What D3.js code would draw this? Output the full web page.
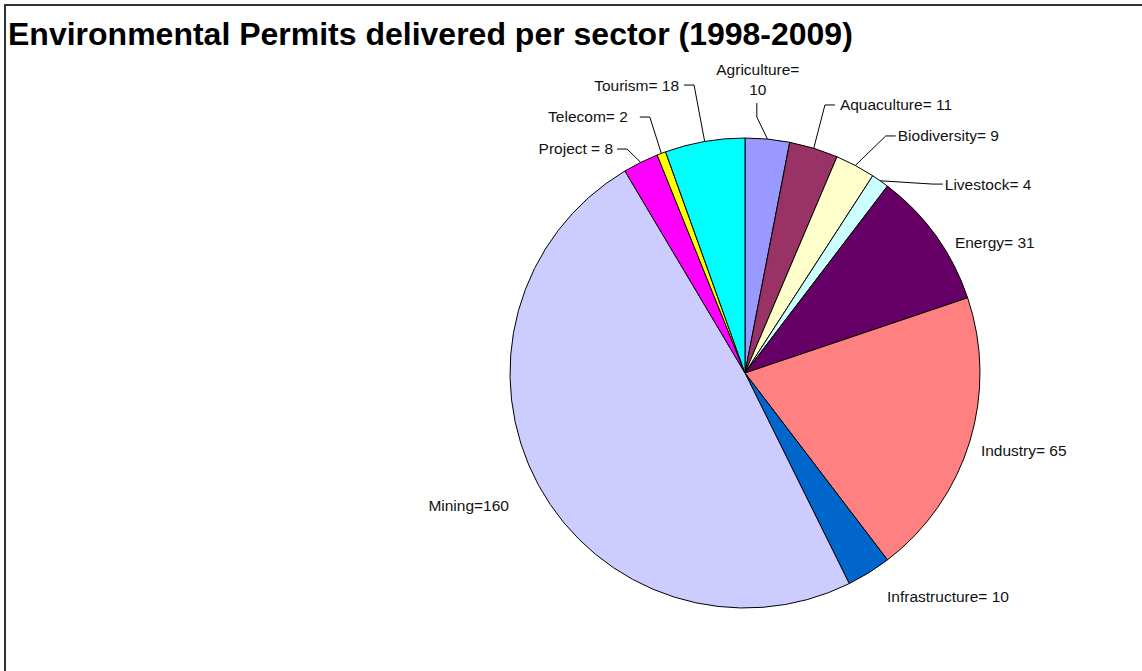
<!DOCTYPE html>
<html lang="en">
<head>
    <meta charset="UTF-8">
    <style>
        body { margin: 0; background: #fff; }
        svg { display: block; font-family: Arial, "Liberation Sans", sans-serif; }
        .labels { font-size: 15.5px; fill: #111; }
        .leader { fill: none; stroke: #000; stroke-width: 1; }
    </style>
    <script src="https://d3js.org/d3.v7.min.js"></script>
</head>
<body>
    <div id="my_dataviz"></div>

    <script>
        // data
        var sectors = ["Agriculture", "Aquaculture", "Biodiversity", "Livestock", "Energy", "Industry",
            "Infrastructure", "Mining", "Project", "Telecom", "Tourism"];
        var permits = [10, 11, 9, 4, 31, 65, 10, 160, 8, 2, 18];
        var labelTexts = [["Agriculture=", "10"], ["Aquaculture= 11"], ["Biodiversity= 9"], ["Livestock= 4"],
            ["Energy= 31"], ["Industry= 65"], ["Infrastructure= 10"], ["Mining=160"], ["Project = 8"],
            ["Telecom= 2"], ["Tourism= 18"]];
        var colors = ["#9999FF", "#993366", "#FFFFCC", "#CCFFFF", "#660066", "#FF8080",
            "#0066CC", "#CCCCFF", "#FF00FF", "#FFFF00", "#00FFFF"];

        // label placement: angle (deg, clockwise from 12 o'clock) and radius as a share of the pie radius
        var labelAngle = [2.5, 19.5, 32.8, 46.6, 58.2, 108.1, 147.6, 240.6, 329.5, 335.4, 347.1];
        var labelRadius = [1.252, 1.21, 1.2, 1.17, 1.051, 1.056, 1.128, 1.153, 1.106, 1.198, 1.257];
        var hasLeader = [true, true, true, true, false, false, false, false, true, true, true];
        var leaderGap = [0, 5, 2, 2, 0, 0, 0, 0, 4, 12, 5];

        var width = 1142, height = 671;
        var cx = 745, cy = 373, radius = 235;

        var svg = d3.select("#my_dataviz")
            .append("svg")
            .attr("width", width)
            .attr("height", height);

        // frame (only left and top visible in the crop)
        svg.append("path")
            .attr("d", "M5," + height + "V5H" + width)
            .attr("fill", "none")
            .attr("stroke", "#333")
            .attr("stroke-width", 2);

        var title = svg.append("text")
            .attr("x", 8)
            .attr("y", 45)
            .style("font-weight", "bold")
            .style("font-size", "28px")
            .style("fill", "#000")
            .text("Environmental Permits delivered per sector (1998-2009)");
        var tl = title.node().getComputedTextLength();
        title.style("font-size", (28 * 845 / tl) + "px");

        var data = sectors.map(function (s, i) {
            return { name: s, value: permits[i], color: colors[i], text: labelTexts[i],
                la: labelAngle[i], lr: labelRadius[i], leader: hasLeader[i], gap: leaderGap[i] };
        });

        var pie = d3.pie()
            .value(function (d) { return d.value; })
            .sort(null);

        var arc = d3.arc()
            .innerRadius(0)
            .outerRadius(radius);

        var arcs = pie(data);

        var g = svg.append("g")
            .attr("transform", "translate(" + cx + "," + cy + ")");

        g.selectAll("mySlices")
            .data(arcs)
            .enter()
            .append("path")
            .attr("d", arc)
            .attr("fill", function (d) { return d.data.color; })
            .attr("stroke", "#000")
            .attr("stroke-width", 1)
            .attr("stroke-linejoin", "round");

        function polar(angleDeg, r) {
            var a = angleDeg * Math.PI / 180;
            return [r * Math.sin(a), -r * Math.cos(a)];
        }

        arcs.forEach(function (d) {
            var p = polar(d.data.la, d.data.lr * radius);
            var mid = (d.startAngle + d.endAngle) / 2;
            var edge = [radius * Math.sin(mid), -radius * Math.cos(mid)];
            var right = Math.sin(d.data.la * Math.PI / 180) >= 0;

            if (d.data.text.length > 1) {
                // two-line centred label (Agriculture)
                var t = g.append("text")
                    .attr("class", "labels")
                    .attr("text-anchor", "middle")
                    .attr("x", p[0])
                    .attr("y", p[1] - 10)
                    .attr("dy", "0.35em");
                t.append("tspan").attr("x", p[0]).text(d.data.text[0]);
                t.append("tspan").attr("x", p[0]).attr("dy", "1.3em").text(d.data.text[1]);
                if (d.data.leader) {
                    var top = p[1] + 24;
                    g.append("path")
                        .attr("class", "leader")
                        .attr("d", d3.line()([[p[0] - 1, top], [p[0] - 1, top + 14], edge]));
                }
                return;
            }

            g.append("text")
                .attr("class", "labels")
                .attr("text-anchor", right ? "start" : "end")
                .attr("x", p[0])
                .attr("y", p[1])
                .attr("dy", "0.35em")
                .text(d.data.text[0]);

            if (d.data.leader) {
                var dir = right ? -1 : 1;
                var x0 = p[0] + dir * d.data.gap;
                var elbow = x0 + dir * 10;
                g.append("path")
                    .attr("class", "leader")
                    .attr("d", d3.line()([[x0, p[1]], [elbow, p[1]], edge]));
            }
        });
    </script>
</body>
</html>
